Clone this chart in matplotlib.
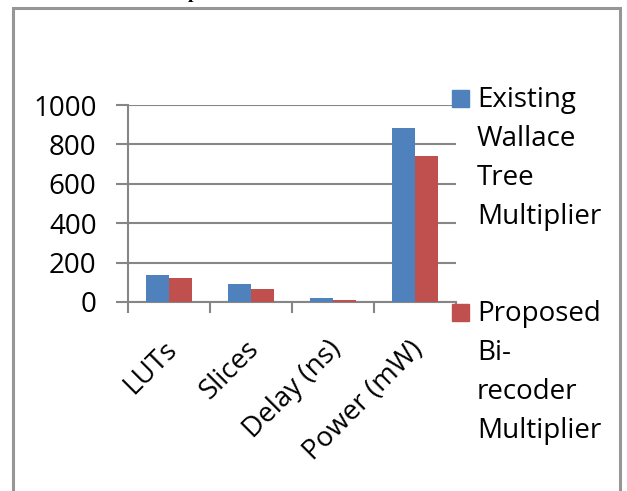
#!/usr/bin/env python3
# -*- coding: utf-8 -*-

"""
Grouped bar chart: existing Wallace tree multiplier vs proposed bi-recoder multiplier.
"""

import numpy as np
import matplotlib
matplotlib.use("Agg")
import matplotlib.pyplot as plt
from matplotlib.patches import Rectangle

# ===============================
# Data
# ===============================

categories = ["LUTs", "Slices", "Delay (ns)", "Power (mW)"]
existing = [137, 90, 20, 885]
proposed = [122, 64, 10, 741]
series_names = ["Existing\nWallace\nTree\nMultiplier",
                "Proposed\nBi-\nrecoder\nMultiplier"]
yticks = [0, 200, 400, 600, 800, 1000]

colors = ["#4F81BD", "#C0504D"]
gridcol = "#868686"

plt.rcParams["font.family"] = ["Open Sans", "DejaVu Sans"]

W, H = 627, 491
fig = plt.figure(figsize=(W / 100, H / 100), dpi=100)


def fx(px):
    return px / W


def fy(py):
    return 1 - py / H


# plot area
ax = fig.add_axes([fx(128), fy(302), fx(456) - fx(128), fy(105) - fy(302)])
x = np.arange(len(categories))
bw = 0.28
ax.bar(x - bw / 2, existing, bw, color=colors[0], zorder=3)
ax.bar(x + bw / 2, proposed, bw, color=colors[1], zorder=3)

ax.set_xlim(-0.5, len(categories) - 0.5)
ax.set_ylim(0, 1000)
ax.set_yticks(yticks)
ax.set_yticklabels([str(v) for v in yticks], fontsize=20)
ax.yaxis.grid(True, color=gridcol, linewidth=1.5, zorder=0)
ax.tick_params(axis="y", direction="out", length=8.6, width=1.5,
               color=gridcol, pad=14)

# category boundaries as ticks, labels rotated
ax.set_xticks(np.arange(len(categories) + 1) - 0.5)
ax.set_xticklabels([])
ax.tick_params(axis="x", direction="out", length=8, width=1.5, color=gridcol)
for i, c in enumerate(categories):
    ax.annotate(c, xy=(i, 0), xycoords=("data", "axes fraction"),
                xytext=(3, -31), textcoords="offset points",
                rotation=45, rotation_mode="anchor",
                ha="right", va="center", fontsize=20)

for s in ["top", "right"]:
    ax.spines[s].set_visible(False)
for s in ["left", "bottom"]:
    ax.spines[s].set_color(gridcol)
    ax.spines[s].set_linewidth(1.5)

# legend drawn by hand (Excel-style, multi-line entries)
legend_top = [107, 321]
for name, col, base in zip(series_names, colors, legend_top):
    fig.patches.append(Rectangle((fx(452), fy(base)), fx(17), fy(90) - fy(107),
                                 transform=fig.transFigure, color=col))
    for k, line in enumerate(name.split("\n")):
        fig.text(fx(477), fy(base + 39 * k), line, fontsize=20,
                 ha="left", va="baseline")

# chart frame
fig.patches.append(Rectangle((fx(13), fy(560)), fx(620) - fx(13), fy(8) - fy(560),
                             transform=fig.transFigure, fill=False,
                             edgecolor="#969696", linewidth=2.2, clip_on=False))

# descender of cut-off caption above the chart
fig.text(fx(188), fy(-2), "p", fontsize=14, family="Liberation Serif",
         fontweight="bold", ha="left", va="baseline")

fig.savefig("out.png", dpi=100)
